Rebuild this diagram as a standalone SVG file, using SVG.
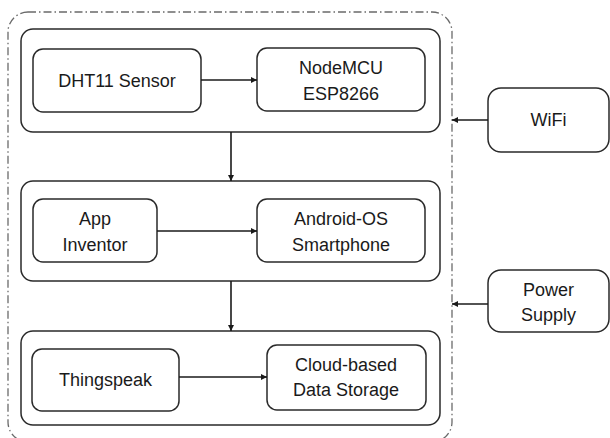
<svg xmlns="http://www.w3.org/2000/svg" width="610" height="438" viewBox="0 0 610 438">
<defs>
<marker id="ah" viewBox="0 0 10 10" refX="10" refY="5" markerWidth="6" markerHeight="6" markerUnits="userSpaceOnUse" orient="auto">
<path d="M0,0 L10,5 L0,10 z" fill="#1a1a1a"/>
</marker>
<style>
.box{fill:#fff;stroke:#2a2a2a;stroke-width:1.5}
.grp{fill:none;stroke:#2a2a2a;stroke-width:1.5}
.outer{fill:none;stroke:#6a6a6a;stroke-width:1.3;stroke-dasharray:8 3 1.5 3}
.t{font-family:"Liberation Sans",Arial,sans-serif;font-size:18px;fill:#1a1a1a;text-anchor:middle}
.c{fill:none;stroke:#1a1a1a;stroke-width:1.6}
</style>
</defs>
<rect id="system" class="outer" x="8" y="12" width="444" height="430" rx="20"/>
<g id="layer1"><rect class="grp" x="21" y="29" width="419" height="103" rx="12"/></g>
<g id="layer2"><rect class="grp" x="21" y="181" width="419" height="100" rx="12"/></g>
<g id="layer3"><rect class="grp" x="21" y="331" width="419" height="94" rx="12"/></g>
<g id="dht11"><rect class="box" x="33" y="49" width="168" height="63" rx="10"/><text class="t" x="117" y="87">DHT11 Sensor</text></g>
<g id="nodemcu"><rect class="box" x="257" y="48" width="168" height="63" rx="10"/><text class="t" x="341" y="74">NodeMCU</text><text class="t" x="341" y="100">ESP8266</text></g>
<g id="appinventor"><rect class="box" x="33" y="199" width="124" height="63" rx="10"/><text class="t" x="95" y="225">App</text><text class="t" x="95" y="251">Inventor</text></g>
<g id="android"><rect class="box" x="257" y="199" width="168" height="63" rx="10"/><text class="t" x="341" y="225">Android-OS</text><text class="t" x="341" y="251">Smartphone</text></g>
<g id="thingspeak"><rect class="box" x="32" y="349" width="147" height="62" rx="10"/><text class="t" x="105.5" y="386">Thingspeak</text></g>
<g id="cloud"><rect class="box" x="267" y="345" width="159" height="65" rx="10"/><text class="t" x="346" y="371">Cloud-based</text><text class="t" x="346" y="396">Data Storage</text></g>
<g id="wifi"><rect class="box" x="488" y="88" width="121" height="64" rx="13"/><text class="t" x="548.5" y="126">WiFi</text></g>
<g id="power"><rect class="box" x="488" y="270" width="121" height="62" rx="13"/><text class="t" x="548.5" y="296">Power</text><text class="t" x="548.5" y="321">Supply</text></g>
<g id="connectors">
<line class="c" x1="201" y1="80" x2="257" y2="80" marker-end="url(#ah)"/>
<line class="c" x1="157" y1="231" x2="257" y2="231" marker-end="url(#ah)"/>
<line class="c" x1="179" y1="377" x2="267" y2="377" marker-end="url(#ah)"/>
<line class="c" x1="231" y1="132" x2="231" y2="181" marker-end="url(#ah)"/>
<line class="c" x1="231" y1="281" x2="231" y2="331" marker-end="url(#ah)"/>
<line class="c" x1="488" y1="120" x2="452" y2="120" marker-end="url(#ah)"/>
<line class="c" x1="488" y1="304" x2="452" y2="304" marker-end="url(#ah)"/>
</g>
</svg>
